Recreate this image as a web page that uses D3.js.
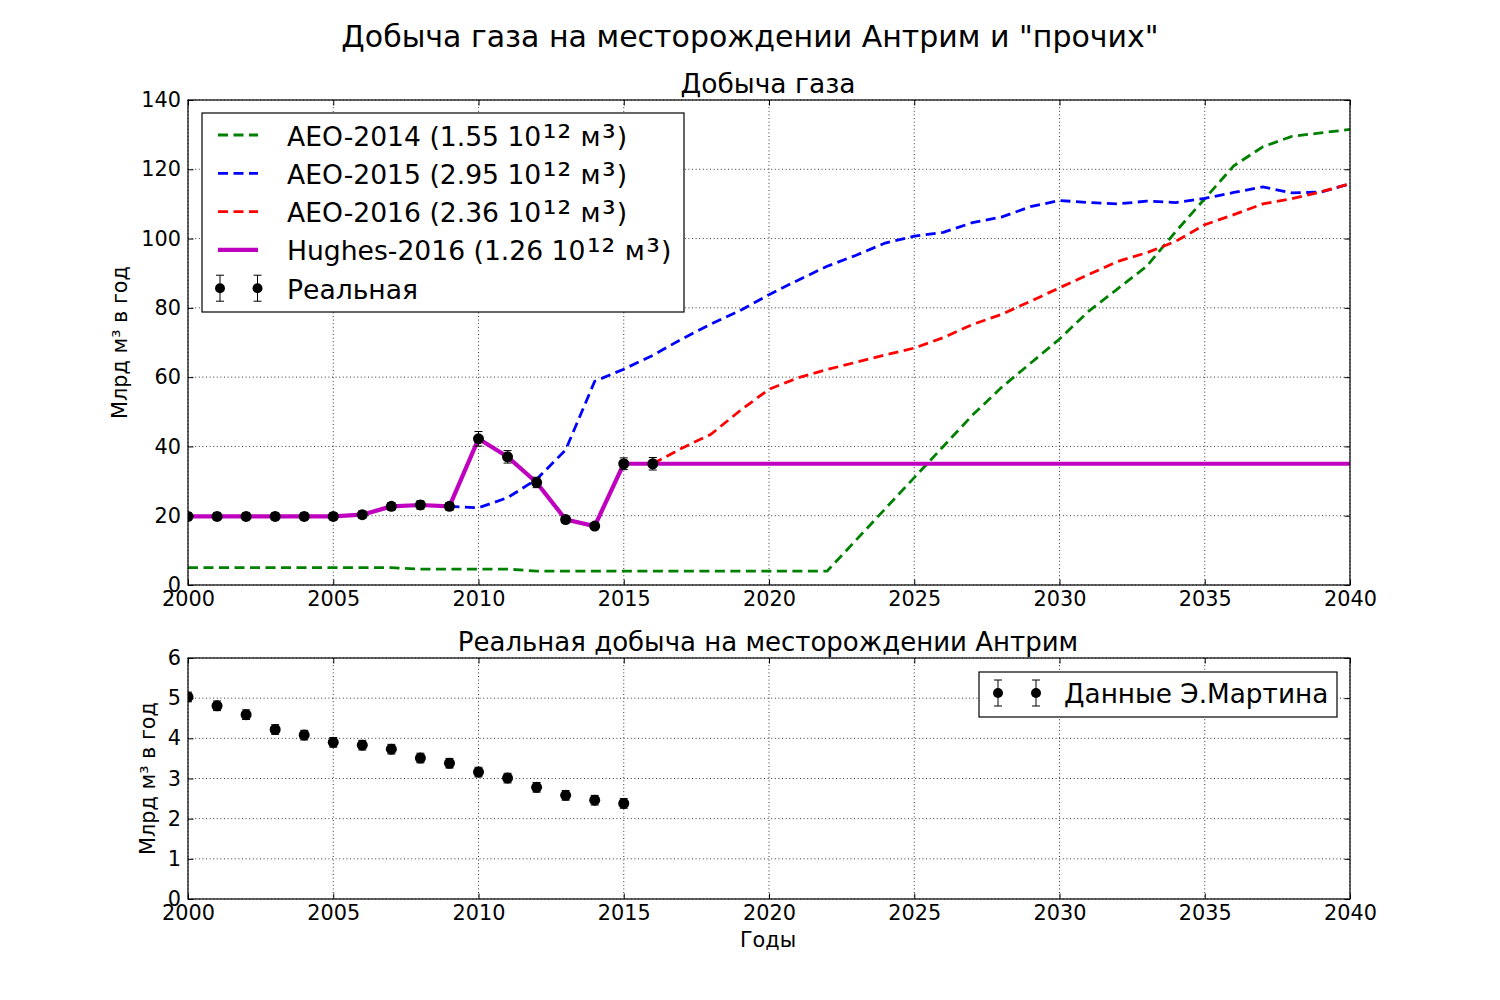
<!DOCTYPE html>
<html><head><meta charset="utf-8">
<script src="https://cdn.jsdelivr.net/npm/d3@7"></script>
<style>body{margin:0;background:#fff} svg{font-family:"DejaVu Sans",sans-serif}</style>
</head><body>
<svg id="c" width="1500" height="1000"></svg>
<script>
// ---------- DATA ----------
const yearsAll = [2000,2001,2002,2003,2004,2005,2006,2007,2008,2009,2010,2011,2012,2013,2014,2015,2016,2017,2018,2019,2020,2021,2022,2023,2024,2025,2026,2027,2028,2029,2030,2031,2032,2033,2034,2035,2036,2037,2038,2039,2040];
const aeo2014 = [5.0,5.0,5.0,5.0,5.0,5.0,5.0,5.0,4.6,4.6,4.6,4.6,4.0,4.0,4.0,4.0,4.0,4.0,4.0,4.0,4.0,4.0,4.0,13,22,31,40,49,57,64,71,79,85.5,92,102,111.5,121,126.5,129.5,130.5,131.5];
const years2015 = [2009,2010,2011,2012,2013,2014,2015,2016,2017,2018,2019,2020,2021,2022,2023,2024,2025,2026,2027,2028,2029,2030,2031,2032,2033,2034,2035,2036,2037,2038,2039,2040];
const aeo2015 = [22.7,22.3,25.2,30.5,39,58.8,62.3,66.3,71,75.3,79.2,83.8,88,92,95.2,98.7,100.7,101.8,104.6,106.2,109.2,111,110.4,110,110.8,110.4,111.6,113.3,114.9,113.2,113.4,115.8];
const years2016 = [2016,2017,2018,2019,2020,2021,2022,2023,2024,2025,2026,2027,2028,2029,2030,2031,2032,2033,2034,2035,2036,2037,2038,2039,2040];
const aeo2016 = [35,39.5,43.5,50.3,56.5,59.8,62.2,64.3,66.4,68.4,71.4,75.2,78.1,81.9,85.8,89.6,93.4,95.9,99.2,104,106.9,110,111.5,113.5,115.8];
const hughes2016 = [19.8,19.8,19.8,19.8,19.8,19.8,20.3,22.7,23.1,22.7,42.2,37.0,29.6,18.9,17.0,35.0,35.0,35.0,35.0,35.0,35.0,35.0,35.0,35.0,35.0,35.0,35.0,35.0,35.0,35.0,35.0,35.0,35.0,35.0,35.0,35.0,35.0,35.0,35.0,35.0,35.0];
const yearsReal = [2000,2001,2002,2003,2004,2005,2006,2007,2008,2009,2010,2011,2012,2013,2014,2015,2016];
const realProd = [19.8,19.8,19.8,19.8,19.8,19.8,20.3,22.7,23.1,22.7,42.2,37.0,29.6,18.9,17.0,35.0,35.0];
const realErr = [1.0,1.0,1.0,1.0,1.0,1.0,1.0,1.1,1.2,1.1,2.1,1.8,1.5,0.9,0.8,1.7,1.8];
const yearsAntrim = [2000,2001,2002,2003,2004,2005,2006,2007,2008,2009,2010,2011,2012,2013,2014,2015];
const antrim = [5.03,4.81,4.59,4.22,4.08,3.90,3.83,3.73,3.51,3.38,3.16,3.01,2.78,2.58,2.46,2.38];
const antrimErr = [0.12,0.12,0.12,0.12,0.12,0.12,0.12,0.12,0.12,0.12,0.12,0.12,0.12,0.12,0.12,0.12];
const xTicks = [2000,2005,2010,2015,2020,2025,2030,2035,2040];
const yTicksTop = [0,20,40,60,80,100,120,140];
const yTicksBottom = [0,1,2,3,4,5,6];
const legendTop = ["AEO-2014 (1.55 10¹² м³)","AEO-2015 (2.95 10¹² м³)","AEO-2016 (2.36 10¹² м³)","Hughes-2016 (1.26 10¹² м³)","Реальная"];
const legendBottom = ["Данные Э.Мартина"];

// ---------- LAYOUT ----------
const svg = d3.select("#c");
const L = 188, R = 1350;
const T1 = 100, B1 = 585, T2 = 658, B2 = 899;
const x = d3.scaleLinear().domain([2000,2040]).range([L,R]);
const y1 = d3.scaleLinear().domain([0,140]).range([B1,T1]);
const y2 = d3.scaleLinear().domain([0,6]).range([B2,T2]);
const tickFont = 20.8;
const legFont = 26.6;

svg.append("text").attr("x",750).attr("y",47).attr("text-anchor","middle")
  .attr("font-size",30).text('Добыча газа на месторождении Антрим и "прочих"');

function clip(id, top, bottom){
  svg.append("clipPath").attr("id",id).append("rect")
    .attr("x",L).attr("y",top).attr("width",R-L).attr("height",bottom-top);
}
clip("cp1",T1,B1); clip("cp2",T2,B2);

function drawGrid(y, top, bottom, yt){
  const g = svg.append("g");
  g.append("g").selectAll("line").data(xTicks).join("line")
    .attr("x1",d=>x(d)).attr("x2",d=>x(d)).attr("y1",top).attr("y2",bottom)
    .attr("stroke","#000").attr("stroke-width",0.8).attr("stroke-dasharray","1,2.6");
  g.append("g").selectAll("line").data(yt).join("line")
    .attr("y1",d=>y(d)).attr("y2",d=>y(d)).attr("x1",L).attr("x2",R)
    .attr("stroke","#000").attr("stroke-width",0.8).attr("stroke-dasharray","1,2.6");
  return g;
}
function drawFrame(y, top, bottom, yt){
  const ax = d3.axisBottom(x).tickValues(xTicks).tickFormat(d3.format("d")).tickSize(-5.5).tickPadding(6.5);
  const gx = svg.append("g").attr("transform",`translate(0,${bottom})`).call(ax);
  const axT = d3.axisTop(x).tickValues(xTicks).tickFormat("").tickSize(-5.5);
  const gxt = svg.append("g").attr("transform",`translate(0,${top})`).call(axT);
  const ay = d3.axisLeft(y).tickValues(yt).tickFormat(d3.format("d")).tickSize(-5.5).tickPadding(7);
  const gy = svg.append("g").attr("transform",`translate(${L},0)`).call(ay);
  const ayR = d3.axisRight(y).tickValues(yt).tickFormat("").tickSize(-5.5);
  const gyr = svg.append("g").attr("transform",`translate(${R},0)`).call(ayR);
  [gx,gxt,gy,gyr].forEach(g=>{
    g.select(".domain").remove();
    g.selectAll("text").attr("font-size",tickFont).attr("font-family","DejaVu Sans").attr("fill","#000");
    g.selectAll("line").attr("stroke","#000");
  });
  svg.append("rect").attr("x",L).attr("y",top).attr("width",R-L).attr("height",bottom-top)
    .attr("fill","none").attr("stroke","#000").attr("stroke-width",1.2);
}
function errPoints(g, xs, ys, es, y, r){
  const grp = g.append("g");
  xs.forEach((xv,i)=>{
    const cx = x(xv), cy = y(ys[i]), lo = y(ys[i]-es[i]), hi = y(ys[i]+es[i]);
    grp.append("line").attr("x1",cx).attr("x2",cx).attr("y1",lo).attr("y2",hi).attr("stroke","#000").attr("stroke-width",1);
    [lo,hi].forEach(v=>grp.append("line").attr("x1",cx-4).attr("x2",cx+4).attr("y1",v).attr("y2",v).attr("stroke","#000").attr("stroke-width",1));
    grp.append("circle").attr("cx",cx).attr("cy",cy).attr("r",r).attr("fill","#000");
  });
}
function legendErr(g, mx, cy){
  g.append("line").attr("x1",mx).attr("x2",mx).attr("y1",cy-13).attr("y2",cy+13).attr("stroke","#000");
  [cy-13,cy+13].forEach(v=>g.append("line").attr("x1",mx-4).attr("x2",mx+4).attr("y1",v).attr("y2",v).attr("stroke","#000"));
  g.append("circle").attr("cx",mx).attr("cy",cy).attr("r",5).attr("fill","#000");
}
// text with enlarged superscript glyphs (keeps the original characters)
function richText(g, xx, yy, str, size){
  const t = g.append("text").attr("font-size",size);
  const runs = str.match(/[¹²³]+|[^¹²³]+/g);
  const shift = 3;
  runs.forEach((r,k)=>{
    const sp = t.append("tspan");
    if(k===0) sp.attr("x",xx).attr("y",yy);
    if(/[¹²³]/.test(r)){
      sp.attr("font-size",size*1.28).attr("y",yy+shift).attr("dx",1.5).attr("letter-spacing",1).text(r);
    } else {
      if(k>0) sp.attr("y",yy);
      sp.text(r);
    }
  });
  return t;
}

// ---------- TOP PLOT ----------
drawGrid(y1,T1,B1,yTicksTop);
const p1 = svg.append("g").attr("clip-path","url(#cp1)");
const line1 = (xs,ys)=>d3.line().x((d,i)=>x(xs[i])).y(d=>y1(d))(ys);
const dash = "10,5.5";
p1.append("path").attr("d",line1(yearsAll,aeo2014)).attr("fill","none").attr("stroke","#008000").attr("stroke-width",2.8).attr("stroke-dasharray",dash);
p1.append("path").attr("d",line1(years2015,aeo2015)).attr("fill","none").attr("stroke","#0000ff").attr("stroke-width",2.8).attr("stroke-dasharray",dash);
p1.append("path").attr("d",line1(years2016,aeo2016)).attr("fill","none").attr("stroke","#ff0000").attr("stroke-width",2.8).attr("stroke-dasharray",dash);
p1.append("path").attr("d",line1(yearsAll,hughes2016)).attr("fill","none").attr("stroke","#bf00bf").attr("stroke-width",4.2).attr("stroke-linejoin","round");
errPoints(p1, yearsReal, realProd, realErr, y1, 5.5);
drawFrame(y1,T1,B1,yTicksTop);

svg.append("text").attr("x",768).attr("y",93).attr("text-anchor","middle").attr("font-size",26.5).text("Добыча газа");
svg.append("text").attr("transform",`translate(127,${(T1+B1)/2}) rotate(-90)`).attr("text-anchor","middle").attr("font-size",tickFont).text("Млрд м³ в год");

const lg = svg.append("g");
lg.append("rect").attr("x",202).attr("y",113).attr("width",482).attr("height",199).attr("fill","#fff").attr("stroke","#000").attr("stroke-width",1.2);
const legCol = ["#008000","#0000ff","#ff0000","#bf00bf"];
legendTop.forEach((t,i)=>{
  const cy = 135 + i*38.3;
  if(i<3){
    lg.append("line").attr("x1",218).attr("x2",258).attr("y1",cy).attr("y2",cy).attr("stroke",legCol[i]).attr("stroke-width",2.8).attr("stroke-dasharray",dash);
  } else if(i===3){
    lg.append("line").attr("x1",218).attr("x2",258).attr("y1",cy).attr("y2",cy).attr("stroke",legCol[i]).attr("stroke-width",4.2);
  } else {
    legendErr(lg,220,cy); legendErr(lg,257.5,cy);
  }
  richText(lg, 287, cy+10.5, t, legFont);
});

// ---------- BOTTOM PLOT ----------
drawGrid(y2,T2,B2,yTicksBottom);
const p2 = svg.append("g").attr("clip-path","url(#cp2)");
errPoints(p2, yearsAntrim, antrim, antrimErr, y2, 5.5);
drawFrame(y2,T2,B2,yTicksBottom);
svg.append("text").attr("x",768).attr("y",651).attr("text-anchor","middle").attr("font-size",26).text("Реальная добыча на месторождении Антрим");
svg.append("text").attr("transform",`translate(155,${(T2+B2)/2}) rotate(-90)`).attr("text-anchor","middle").attr("font-size",tickFont).text("Млрд м³ в год");
svg.append("text").attr("x",768).attr("y",947).attr("text-anchor","middle").attr("font-size",tickFont).text("Годы");

const lg2 = svg.append("g");
lg2.append("rect").attr("x",979).attr("y",672).attr("width",358).attr("height",45).attr("fill","#fff").attr("stroke","#000").attr("stroke-width",1.2);
legendErr(lg2,998,693); legendErr(lg2,1036,693);
lg2.append("text").attr("x",1064).attr("y",703).attr("font-size",26.3).text(legendBottom[0]);
</script>
</body></html>
